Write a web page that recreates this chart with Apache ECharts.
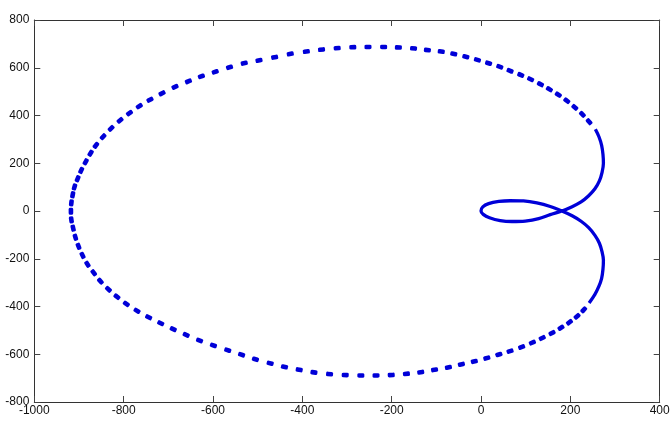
<!DOCTYPE html>
<html><head><meta charset="utf-8">
<script src="https://cdn.jsdelivr.net/npm/echarts@6/dist/echarts.min.js"></script>
<style>html,body{margin:0;padding:0;background:#fff}#c{width:671px;height:421px}</style>
</head><body><div id="c"></div>
<script>
// Outer (dashed-looking) part of the curve, ordered along the curve
const outerX = [242,227,210,192,173,153,133,111,89,65,42,17,-8,-34,-61,-89,-120,-151,-185,-218,
  -253,-287,-322,-357,-391,-427,-462,-497,-530,-563,-595,-626,-655,-685,-714,-741,-765,-787,-808,-828,
  -846,-862,-874,-885,-895,-903,-910,-914,-917,-918,
  -917,-913,-908,-901,-892,-881,-867,-852,-834,-815,-794,-770,-744,-717,-689,-660,-630,-599,-567,-536,
  -505,-472,-440,-407,-374,-339,-304,-269,-235,-201,-167,-135,-104,-73,-44,-15,13,40,65,91,
  115,137,159,179,198,215,230];
const outerY = [374,405,434,462,487,510,531,552,570,587,604,619,633,646,658,668,674,681,685,687,
  687,686,682,676,668,658,644,631,619,602,583,564,543,520,493,466,439,410,380,346,
  311,275,242,206,170,135,101,68,34,-1,
  -37,-72,-110,-148,-186,-223,-259,-294,-328,-359,-389,-418,-445,-470,-495,-519,-542,-563,-583,-602,
  -621,-638,-653,-665,-676,-683,-687,-689,-689,-687,-682,-675,-665,-655,-642,-630,-616,-601,-587,-570,
  -551,-532,-511,-489,-466,-441,-414];
// Dense (solid-looking) part: right side and inner loop
const denseX = [256,264,270,273,274,271,265,255,241,224,204,181,
  155,129,99,69,43,19,5,0,
  4,17,40,65,95,125,155,181,
  204,224,241,255,265,271,274,273,270,264,255,242];
const denseY = [342,311,275,237,200,162,126,93,64,38,18,0,
  -15,-32,-42,-44,-40,-28,-14,0,
  17,31,40,43,42,34,19,0,
  -20,-43,-70,-102,-135,-171,-206,-244,-282,-315,-349,-385];
const xMin = -1000, xMax = 400, xStep = 200;
const yMin = -800, yMax = 800, yStep = 200;

const BLUE = '#0000d8';
const chart = echarts.init(document.getElementById('c'), null, {renderer:'canvas'});
function axisCommon(pos, showLabel, min, max, step, isX){
  return {
    type:'value', position:pos, min:min, max:max, interval:step,
    axisLine:{show:true, onZero:false, lineStyle:{color:'#333', width:1}},
    axisTick:{show:true, inside:true, length:6, lineStyle:{color:'#444', width:1}},
    axisLabel:{show:showLabel, color:'#111', fontSize:12, fontFamily:'Liberation Sans, Arial, sans-serif',
      margin:isX?3:5, showMinLabel:true, showMaxLabel:true, hideOverlap:false,
      formatter: v => String(v)},
    splitLine:{show:false}
  };
}
const outerData = outerX.map((x,i)=>[x, outerY[i]]);
const denseData = denseX.map((x,i)=>[x, denseY[i]]);
const option = {
  animation:false,
  backgroundColor:'#fff',
  grid:{left:34.3, right:11.3, top:20, bottom:19, containLabel:false, outerBoundsMode:'none'},
  xAxis:[axisCommon('bottom', true, xMin, xMax, xStep, true), axisCommon('top', false, xMin, xMax, xStep, true)],
  yAxis:[axisCommon('left', true, yMin, yMax, yStep, false), axisCommon('right', false, yMin, yMax, yStep, false)],
  series:[
    {type:'line', data:denseData, showSymbol:false, smooth:0.3, lineStyle:{color:BLUE, width:3.3, opacity:1}, z:2},
    {type:'scatter', data:outerData, symbol:'roundRect', symbolSize:[7,4.6], itemStyle:{color:BLUE, opacity:1}, z:3}
  ]
};
chart.setOption(option);
// orient each dash along the curve's tangent (in screen space)
const toPx = p => chart.convertToPixel({gridIndex:0}, p);
const rotated = outerData.map((p,i)=>{
  const prev = i===0 ? denseData[0] : outerData[i-1];
  const next = i===outerData.length-1 ? denseData[denseData.length-1] : outerData[i+1];
  const a = toPx(prev), b = toPx(next);
  const ang = Math.atan2(-(b[1]-a[1]), b[0]-a[0]) * 180 / Math.PI;
  return {value:p, symbolRotate:ang};
});
chart.setOption({series:[{}, {data:rotated}]});
</script></body></html>
